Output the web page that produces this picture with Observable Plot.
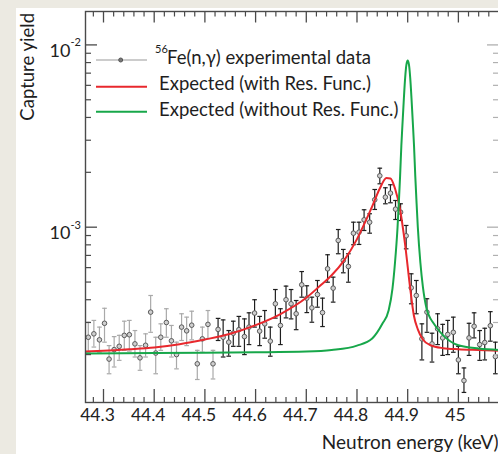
<!DOCTYPE html>
<html><head><meta charset="utf-8">
<script src="https://cdn.jsdelivr.net/npm/d3@7"></script>
<script src="https://cdn.jsdelivr.net/npm/@observablehq/plot@0.6"></script>
<style>
html,body{margin:0;padding:0;overflow:hidden;background:#eceae2;width:498px;height:454px;}
#panel{position:absolute;left:16px;top:8px;width:484px;height:446px;background:#fff;overflow:hidden;}
#panel svg{display:block;}
</style></head><body><div id="panel"></div>
<script>
// ---------- data (yield values in units of 1e-4) ----------
const UNIT = 1e-4;
const energy = [44.270,44.281,44.292,44.302,44.311,44.321,44.331,44.341,44.351,44.362,
44.372,44.383,44.393,44.403,44.413,44.424,44.434,44.444,44.454,44.464,
44.474,44.485,44.495,44.506,44.516,44.526,44.536,44.547,44.556,44.567,
44.578,44.587,44.598,44.608,44.618,44.629,44.639,44.649,44.660,44.670,
44.680,44.691,44.701,44.711,44.722,44.732,44.742,44.753,44.763,44.773,
44.783,44.793,44.804,44.814,44.825,44.835,44.845,44.856,44.866,44.876,
44.886,44.897,44.907,44.917,44.928,44.938,44.948,44.959,44.969,44.979,
44.990,45.000,45.011,45.021,45.031,45.042,45.052,45.063,45.073];
const yieldVal = [2.49,2.60,2.41,2.97,1.89,2.13,2.22,2.55,2.57,2.29,
1.92,2.25,3.42,2.04,2.49,3.00,2.38,2.00,2.83,2.70,
2.90,1.78,2.44,2.93,1.78,2.75,2.49,2.34,2.62,2.74,
2.51,2.83,3.38,2.69,2.95,2.37,3.80,2.89,4.00,3.80,
3.35,4.83,4.08,3.61,4.27,3.40,5.91,4.63,8.46,6.57,
6.09,9.27,9.39,10.98,10.65,14.14,19.14,14.61,15.37,12.56,
12.09,8.97,4.65,4.22,2.44,3.42,2.29,2.77,2.47,2.58,
2.65,1.87,1.44,2.47,2.86,2.27,2.33,2.88,1.95];
const errHigh = [3.01,3.08,2.83,3.59,2.24,2.51,2.55,3.05,3.08,2.71,
2.24,2.60,4.22,2.49,2.95,3.57,2.89,2.34,3.35,3.21,
3.46,2.11,2.83,3.49,2.11,3.16,3.10,2.71,3.05,3.24,
3.14,3.39,4.00,3.24,3.49,2.83,4.55,3.57,4.75,4.55,
3.96,5.71,4.77,4.13,5.10,4.08,7.06,5.32,9.71,7.55,
7.15,10.65,10.65,12.46,11.85,16.10,21.07,16.45,17.09,14.01,
13.44,10.22,5.55,5.10,2.95,4.05,2.62,3.35,2.93,3.08,
3.21,2.22,1.69,2.97,3.39,2.71,2.79,3.44,2.34];
const errLow = [2.06,2.20,2.06,2.34,1.57,1.71,1.86,2.11,2.09,1.94,
1.64,1.94,2.65,1.57,2.11,2.49,1.94,1.67,2.39,2.24,
2.41,1.46,2.06,2.45,1.47,2.39,1.94,1.96,2.22,2.22,
2.00,2.27,2.83,2.24,2.46,1.96,3.17,2.27,3.18,3.14,
2.74,4.13,3.40,3.01,3.64,2.85,4.99,3.88,7.15,5.62,
4.99,8.01,8.04,9.59,9.27,12.51,17.30,13.44,13.61,11.02,
10.88,7.61,3.80,3.35,1.87,2.65,1.82,2.27,1.98,2.00,
2.06,1.57,1.24,1.98,2.47,1.86,1.87,2.37,1.57];
// first 25 points drawn with light-gray error bars, the rest with black ones
const lightBarCount = 25;

const redE = [44.264,44.30,44.35,44.40,44.45,44.50,44.55,44.60,44.65,44.70,44.73,44.75,44.775,44.80,44.815,44.83,44.845,44.858,44.866,44.875,44.885,44.895,44.905,44.912,44.92,44.93,44.945,44.97,45.0,45.04,45.083];
const redY = [2.08,2.10,2.14,2.19,2.28,2.42,2.60,2.90,3.35,4.10,4.85,5.45,6.6,8.6,10.5,13.0,16.3,18.6,18.5,16.3,12.5,8.0,4.6,3.3,2.75,2.42,2.25,2.17,2.14,2.12,2.10];
const greenE = [44.264,44.40,44.50,44.60,44.70,44.75,44.80,44.83,44.85,44.8625,44.87,44.875,44.88,44.8825,44.885,44.8875,44.89,44.8925,44.895,44.8975,44.90,44.9025,44.905,44.9075,44.91,44.9125,44.915,44.9175,44.92,44.925,44.93,44.9375,44.945,44.95,44.97,45.0,45.04,45.083];
const greenY = [2.03,2.04,2.05,2.06,2.08,2.12,2.24,2.45,2.95,3.5,4.6,6.4,10.0,13.6,19.0,28,38,51,66,78,82,78,66,51,38,28,19.0,13.6,10.0,6.4,4.7,3.55,3.15,3.0,2.55,2.25,2.16,2.12];

const xMajorTicks = [44.3,44.4,44.5,44.6,44.7,44.8,44.9,45.0];
const xTickLabels = ["44.3","44.4","44.5","44.6","44.7","44.8","44.9","45"];
const xMinorTicks = [44.28,44.32,44.34,44.36,44.38,44.42,44.44,44.46,44.48,44.52,44.54,44.56,44.58,44.62,44.64,44.66,44.68,44.72,44.74,44.76,44.78,44.82,44.84,44.86,44.88,44.92,44.94,44.96,44.98,45.02,45.04,45.06,45.08];
const yMajorTicks = [1e-3,1e-2];
const yTickExponents = ["-3","-2"];
const yMinorTicks = [2e-4,3e-4,4e-4,5e-4,6e-4,7e-4,8e-4,9e-4,2e-3,3e-3,4e-3,5e-3,6e-3,7e-3,8e-3,9e-3];
const xDomain = [44.2645,45.0811];
const yDomain = [1.092e-4,1.525e-2];

const xTitle = "Neutron energy (keV)";
const yTitle = "Capture yield";
const legendLabels = ["Fe(n,\u03b3) experimental data","Expected (with Res. Func.)","Expected (without Res. Func.)"];
const legendIsotope = "56";

// ---------- build ----------
const RED = "#e8282d", GREEN = "#17a74a", FONT = "Lato, 'Open Sans', sans-serif";
const W = 484, H = 446, mL = 69, mR = 1, mT = 3, mB = 52;
const innerW = W - mL - mR, innerH = H - mT - mB;

const points = energy.map((e, i) => ({
  e, y: yieldVal[i] * UNIT, lo: errLow[i] * UNIT, hi: errHigh[i] * UNIT,
  bar: i < lightBarCount ? "#a9a9a9" : "#1e1e1e"
}));
const red = redE.map((e, i) => ({e, y: redY[i] * UNIT}));
const green = greenE.map((e, i) => ({e, y: greenY[i] * UNIT}));
const xLab = xMajorTicks.map((v, i) => ({v, t: xTickLabels[i]}));
const yLab = yMajorTicks.map((v, i) => ({v, t: yTickExponents[i]}));

const capSymbol = {draw(ctx, size) { const w = Math.sqrt(size) / 2; ctx.moveTo(-w, 0); ctx.lineTo(w, 0); }};
const AX = "#4a4a4a";

const chart = Plot.plot({
  width: W, height: H, marginLeft: mL, marginRight: mR, marginTop: mT, marginBottom: mB,
  style: {fontFamily: FONT, background: "transparent", color: "#222"},
  x: {domain: xDomain, axis: null},
  y: {type: "log", domain: yDomain, axis: null},
  marks: [
    // error bars
    Plot.ruleX(points, {x: "e", y1: "lo", y2: "hi", stroke: "bar", strokeWidth: 1.2, clip: true}),
    Plot.dot(points, {x: "e", y: "hi", symbol: capSymbol, r: 2.6, stroke: "bar", fill: "none", strokeWidth: 1.2}),
    Plot.dot(points, {x: "e", y: "lo", symbol: capSymbol, r: 2.6, stroke: "bar", fill: "none", strokeWidth: 1.2}),
    Plot.dot(points, {x: "e", y: "y", r: 2.3, fill: "#cfcfcf", stroke: "#5a5a5a", strokeWidth: 1}),
    // expected curves
    Plot.line(red, {x: "e", y: "y", stroke: RED, strokeWidth: 2, curve: "monotone-x", clip: true}),
    Plot.line(green, {x: "e", y: "y", stroke: GREEN, strokeWidth: 2, curve: "monotone-x", clip: true}),
    // ticks bottom / top
    Plot.tickX(xMajorTicks, {x: d => d, insetTop: innerH - 13, stroke: AX, strokeWidth: 1.3}),
    Plot.tickX(xMinorTicks, {x: d => d, insetTop: innerH - 5, stroke: AX, strokeWidth: 1.2}),
    Plot.tickX(xMajorTicks, {x: d => d, insetBottom: innerH - 11.5, stroke: AX, strokeWidth: 1.3}),
    Plot.tickX(xMinorTicks, {x: d => d, insetBottom: innerH - 5.5, stroke: AX, strokeWidth: 1.2}),
    // ticks left / right
    Plot.tickY(yMajorTicks, {y: d => d, insetRight: innerW - 12, stroke: AX, strokeWidth: 1.3}),
    Plot.tickY(yMinorTicks, {y: d => d, insetRight: innerW - 6, stroke: AX, strokeWidth: 1.2}),
    Plot.tickY(yMajorTicks, {y: d => d, insetLeft: innerW - 12, stroke: "#b0b0b0", strokeWidth: 1.3}),
    Plot.tickY(yMinorTicks, {y: d => d, insetLeft: innerW - 6, stroke: "#b0b0b0", strokeWidth: 1.2}),
    Plot.frame({stroke: AX, strokeWidth: 1.4}),
    // tick labels
    Plot.text(xLab.filter(d => d.t.length > 2), {x: "v", text: "t", frameAnchor: "bottom", dy: 18, dx: -6, fontSize: 17.5, fill: "#222"}),
    Plot.text(xLab.filter(d => d.t.length <= 2), {x: "v", text: "t", frameAnchor: "bottom", dy: 18, dx: -3, fontSize: 17.5, fill: "#222"}),
    Plot.text(yLab, {y: "v", text: () => "10", frameAnchor: "left", textAnchor: "end", dx: -15, dy: 6.5, fontSize: 18, fill: "#222"}),
    Plot.text(yLab, {y: "v", text: "t", frameAnchor: "left", textAnchor: "start", dx: -15, dy: -2, fontSize: 11, fill: "#222"}),
    // axis titles
    Plot.text([xTitle], {frameAnchor: "bottom-right", textAnchor: "end", lineAnchor: "bottom", dx: -1, dy: 46, fontSize: 19, fill: "#1e1e1e"}),
    Plot.text([yTitle], {frameAnchor: "top-left", rotate: -90, textAnchor: "end", lineAnchor: "bottom", dx: -52, dy: 1.5, fontSize: 18.5, fill: "#1e1e1e"})
  ]
});
document.getElementById("panel").appendChild(chart);

// ---------- legend ----------
const svg = d3.select(chart);
const lg = svg.append("g").attr("font-family", FONT).attr("fill", "#1e1e1e").attr("text-anchor", "start");
const rowsY = [52, 78.7, 103.7];
const swatch = [{stroke: "#9a9a9a", w: 1.2}, {stroke: RED, w: 2}, {stroke: GREEN, w: 2}];
rowsY.forEach((y, i) => {
  lg.append("line").attr("x1", 80).attr("x2", 131).attr("y1", y).attr("y2", y)
    .attr("stroke", swatch[i].stroke).attr("stroke-width", swatch[i].w);
});
lg.append("circle").attr("cx", 104.7).attr("cy", rowsY[0]).attr("r", 2).attr("fill", "#777").attr("stroke", "#555");
lg.append("text").attr("x", 139).attr("y", 45).attr("font-size", 11).text(legendIsotope);
lg.append("text").attr("x", 151).attr("y", 55.5).attr("font-size", 18.5).text(legendLabels[0]);
lg.append("text").attr("x", 143).attr("y", 82).attr("font-size", 18.5).text(legendLabels[1]);
lg.append("text").attr("x", 143).attr("y", 108).attr("font-size", 18.5).text(legendLabels[2]);
</script></body></html>
